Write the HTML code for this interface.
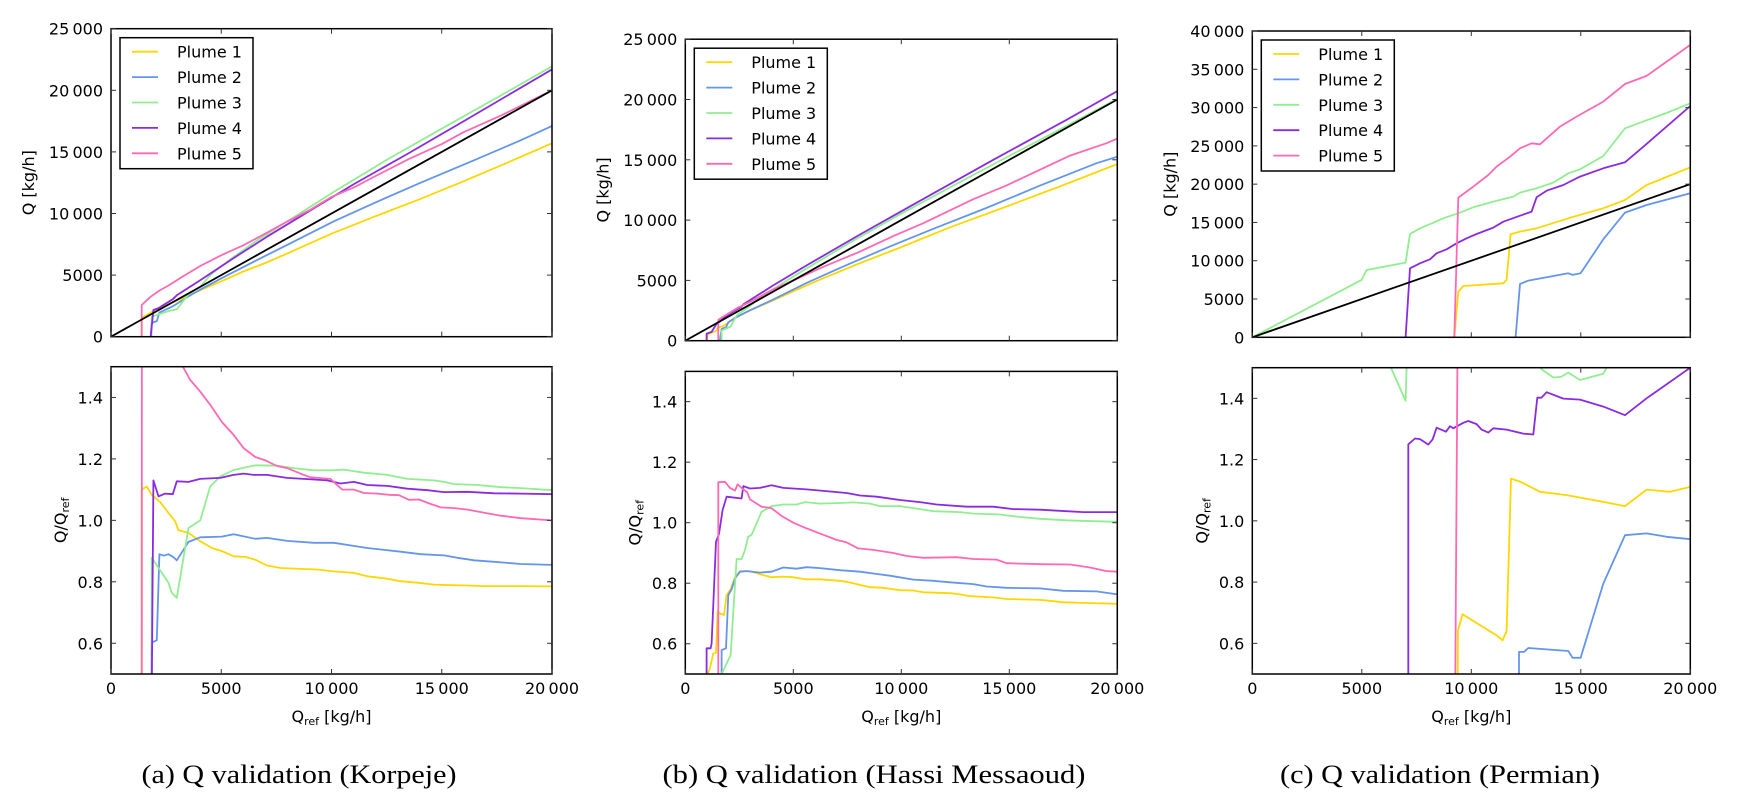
<!DOCTYPE html>
<html><head><meta charset="utf-8"><style>
html,body{margin:0;padding:0;background:#fff;}
svg{display:block;}
.tk{font-family:"DejaVu Sans","Liberation Sans",sans-serif;font-size:16px;fill:#000;}
.cap{font-family:"Liberation Serif",serif;font-size:26px;fill:#000;}
</style></head><body>
<svg id="fig" width="1738" height="806" viewBox="0 0 1738 806" xmlns="http://www.w3.org/2000/svg">
<rect width="1738" height="806" fill="#fff"/>
<text class="cap" x="299" y="783" text-anchor="middle" textLength="315" lengthAdjust="spacingAndGlyphs">(a) Q validation (Korpeje)</text>
<text class="cap" x="874" y="783" text-anchor="middle" textLength="423" lengthAdjust="spacingAndGlyphs">(b) Q validation (Hassi Messaoud)</text>
<text class="cap" x="1440" y="783" text-anchor="middle" textLength="320" lengthAdjust="spacingAndGlyphs">(c) Q validation (Permian)</text>
</svg>
<script>
// ---------- Data: Korpeje (a) ----------
const aT1x=[1394,1394,2000,3000,4000,5000,6000,7000,8000,10000,12000,14000,16000,18000,20000];
const aT1y=[0,1530,2150,2940,3730,4500,5290,5980,6760,8360,9780,11160,12620,14150,15700];
const aT2x=[1800,1848,2076,2197,2833,3515,4045,5030,6545,8000,10106,12000,14045,16470,18591,20000];
const aT2y=[0,1110,1270,1960,2500,3270,3820,4760,6150,7460,9370,10900,12500,14330,15950,17100];
const aT3x=[1840,1848,2606,2985,3515,4045,4500,4955,5561,6545,8288,10106,12530,15106,17682,20000];
const aT3y=[0,1620,2080,2230,3430,4050,5000,5660,6470,7720,9700,11750,14380,17000,19590,21950];
const aT4x=[1800,1924,2152,2803,2985,4045,5561,7076,9197,11015,13439,16167,20000];
const aT4y=[0,2170,2320,3040,3360,4590,6380,8120,10420,12390,14830,17670,21700];
const aT5x=[1394,1394,1800,2200,2600,3258,4045,5030,6015,7000,8000,9045,10000,11000,12000,13515,15000,16000,17682,20000];
const aT5y=[0,2570,3250,3750,4150,4890,5740,6640,7430,8370,9360,10310,11350,12100,13040,14430,15630,16610,17950,20000];
const aR1x=[1394,1394,1621,1848,2227,2606,2909,3061,3515,4045,4576,5030,5561,6091,6545,7076,7682,8591,9348,10106,11015,11621,12530,13136,13894,14652,15409,16167,16924,18591,20000];
const aR1y=[0,1.10,1.11,1.083,1.06,1.024,0.997,0.968,0.959,0.932,0.91,0.90,0.883,0.881,0.872,0.853,0.845,0.842,0.84,0.834,0.829,0.818,0.81,0.802,0.797,0.791,0.789,0.788,0.786,0.786,0.785];
const aR2x=[1800,1848,2076,2197,2400,2600,2833,2985,3515,4045,5030,5561,6545,7076,7985,9197,10106,10712,11621,13136,14045,15106,15712,16470,17379,18591,20000];
const aR2y=[0,0.602,0.61,0.89,0.885,0.89,0.88,0.87,0.93,0.945,0.947,0.955,0.94,0.943,0.933,0.927,0.927,0.92,0.91,0.898,0.89,0.886,0.878,0.87,0.865,0.858,0.855];
const aR3x=[1840,1848,2606,2758,2985,3515,4045,4500,4955,5561,6545,7530,8288,9197,10106,10561,11470,12530,13439,14652,15106,15561,16621,17682,18591,20000];
const aR3y=[0,0.878,0.797,0.764,0.748,0.975,1.0,1.11,1.143,1.164,1.179,1.178,1.17,1.163,1.163,1.165,1.155,1.148,1.135,1.13,1.125,1.118,1.115,1.108,1.105,1.098];
const aR4x=[1800,1924,2152,2455,2803,2985,3515,4045,4955,5561,6015,6470,7076,7985,9197,9803,10409,11015,11621,12530,13439,14348,15106,16167,17379,18591,20000];
const aR4y=[0,1.13,1.078,1.087,1.085,1.127,1.125,1.135,1.138,1.148,1.152,1.148,1.148,1.138,1.133,1.13,1.12,1.125,1.115,1.112,1.103,1.098,1.092,1.093,1.088,1.087,1.085];
const aR5x=[1394,1400,3258,3591,4045,4500,5030,5561,6015,6545,7000,7530,7985,8591,9045,9500,9955,10485,11015,11470,12076,12606,13060,13515,13970,14424,14955,15561,16167,16924,17682,18591,20000];
const aR5y=[0,1.84,1.5,1.457,1.419,1.376,1.32,1.278,1.235,1.206,1.195,1.177,1.17,1.152,1.14,1.137,1.135,1.10,1.10,1.089,1.087,1.083,1.082,1.067,1.068,1.055,1.042,1.04,1.035,1.025,1.015,1.007,1.0];
// ---------- Data: Hassi Messaoud (b) ----------
const bT1x=[1000,1034,1420,1497,1790,2299,2994,3997,5000,6235,7932,9938,12253,14877,17500,20000];
const bT1y=[0,520,810,1060,1240,1890,2510,3280,4100,5070,6320,7720,9400,11130,12900,14640];
const bT2x=[1600,1682,1883,1991,2299,2840,3997,5617,7160,9475,11481,13951,16420,19043,20000];
const bT2y=[0,975,1100,1515,1890,2390,3350,4790,6040,7820,9280,11010,12860,14720,15260];
const bT3x=[1682,1682,2099,2377,2917,3534,4537,5540,7778,9938,12716,15340,17654,20000];
const bT3y=[0,840,1180,2090,2780,3660,4810,5920,8300,10480,13160,15650,17800,20060];
const bT4x=[988,988,1219,1420,1728,1914,2608,2685,3997,5617,8086,10864,14259,17654,20000];
const bT4y=[0,580,730,1330,1800,2080,2820,3010,4500,6240,8810,11600,15000,18320,20700];
const bT5x=[1528,1528,1836,2423,2994,3997,5000,6389,8009,9630,11019,13333,14877,17809,19506,20000];
const bT5y=[0,1730,2080,2730,3220,4190,5000,6130,7330,8670,9740,11730,12880,15350,16380,16760];
const bR1x=[1034,1142,1296,1420,1497,1605,1790,1914,2099,2299,2531,2994,3534,3997,4537,5000,5540,6235,7160,7469,7932,8549,9167,9938,10556,11019,12253,12716,13179,14259,14877,16420,16883,17500,18426,20000];
const bR1y=[0.5,0.52,0.568,0.57,0.706,0.70,0.695,0.76,0.78,0.82,0.84,0.84,0.828,0.82,0.822,0.82,0.813,0.813,0.808,0.805,0.797,0.787,0.785,0.777,0.776,0.77,0.767,0.763,0.757,0.753,0.748,0.745,0.742,0.737,0.735,0.732];
const bR2x=[1682,1682,1883,1991,2145,2299,2531,2840,3457,3997,4537,5154,5617,6235,7160,8086,8704,9475,10556,11481,12253,13333,13951,14877,16420,17500,19043,20000];
const bR2y=[0,0.579,0.585,0.761,0.78,0.816,0.838,0.84,0.835,0.838,0.852,0.848,0.853,0.85,0.843,0.838,0.832,0.825,0.812,0.808,0.803,0.797,0.789,0.785,0.783,0.775,0.773,0.763];
const bR3x=[1682,2099,2377,2608,2762,2917,3071,3534,3997,4537,5154,5540,6235,7160,7778,8549,9012,9938,10864,11481,12716,13333,14568,15340,16420,17654,18889,20000];
const bR3y=[0.5,0.562,0.88,0.88,0.91,0.954,0.96,1.036,1.055,1.06,1.06,1.068,1.063,1.065,1.067,1.063,1.055,1.055,1.045,1.038,1.035,1.03,1.027,1.02,1.013,1.008,1.005,1.003];
const bR4x=[988,988,1173,1219,1420,1559,1728,1914,2608,2685,2994,3457,3997,4537,5617,6389,7469,8086,8858,9938,10864,11636,13025,14259,15185,16420,17654,18426,20000];
const bR4y=[0,0.585,0.585,0.6,0.937,0.963,1.042,1.086,1.08,1.121,1.113,1.115,1.124,1.115,1.11,1.105,1.098,1.09,1.086,1.075,1.068,1.06,1.053,1.053,1.045,1.043,1.038,1.035,1.035];
const bR5x=[1528,1528,1836,2068,2299,2423,2685,2870,2994,3534,3997,4460,5000,5617,6389,7006,7469,8009,8704,9630,10247,11019,12562,13333,14414,14877,16420,17809,18735,19506,20000];
const bR5y=[0,1.134,1.135,1.115,1.106,1.127,1.11,1.10,1.077,1.053,1.048,1.022,1.0,0.981,0.96,0.943,0.935,0.915,0.91,0.9,0.89,0.884,0.886,0.88,0.878,0.866,0.863,0.862,0.852,0.84,0.838];
// ---------- Data: Permian (c) ----------
const cT1x=[9224,9406,9635,11461,11613,11796,12222,12983,14429,16027,17017,18005,20000];
const cT1y=[0,5960,6700,7050,7490,13450,13800,14230,15540,16850,17930,19890,22200];
const cT2x=[12024,12222,12603,14429,14627,14992,16027,17017,18005,20000];
const cT2y=[0,6960,7400,8360,8150,8360,12800,16280,17280,18800];
const cT3x=[0,4992,5221,7002,7199,7656,8265,8721,9482,10091,11005,11918,12222,12983,13744,14429,14962,16027,17017,19072,20000];
const cT3y=[0,7490,8790,9750,13490,14230,14970,15540,16280,16980,17720,18370,18890,19460,20200,21420,21940,23680,27290,29470,30560];
const cT4x=[7002,7199,7656,8113,8417,8874,9330,9787,10243,11005,11461,12755,12983,13439,14201,14962,16027,17017,18005,20000];
const cT4y=[0,9010,9660,10190,10970,11490,12280,12930,13490,14320,15100,16410,18280,19150,19890,20980,22070,22850,25250,30210];
const cT5x=[9224,9406,10091,10776,11157,11766,12222,12755,13135,14049,14810,16027,17017,18005,20000];
const cT5y=[0,18240,19680,21200,22290,23590,24680,25330,25200,27510,28820,30780,33080,34130,38180];
const cR1x=[9360,9390,9604,11157,11431,11613,11811,12222,13135,14353,16027,17017,18005,19072,20000];
const cR1y=[0,0.643,0.695,0.626,0.61,0.64,1.138,1.128,1.095,1.084,1.062,1.048,1.102,1.095,1.111];
const cR2x=[12176,12176,12405,12603,14429,14627,14992,16027,17017,18005,18919,20000];
const cR2y=[0,0.572,0.572,0.585,0.575,0.553,0.553,0.795,0.953,0.959,0.948,0.94];
const cR3x=[1000,4992,5221,7002,7199,10091,13135,13300,13750,14100,14429,14962,16027,16180,17017,20000];
const cR3y=[1.53,1.52,1.68,1.392,1.87,1.68,1.5,1.49,1.468,1.47,1.484,1.46,1.48,1.5,1.6,1.53];
const cR4x=[7123,7123,7427,7656,8037,8235,8417,8843,9026,9178,9635,9863,10243,10472,10776,11005,11613,12374,12831,13014,13200,13440,14201,14962,16027,17017,18005,20000];
const cR4y=[0,1.25,1.269,1.267,1.249,1.266,1.304,1.291,1.309,1.302,1.32,1.326,1.316,1.298,1.288,1.302,1.298,1.285,1.282,1.402,1.402,1.42,1.399,1.396,1.373,1.345,1.4,1.5];
const cR5x=[9224,9406,20000];
const cR5y=[0,1.94,1.91];
// ---------- Axis ticks ----------
const xTicks=[0,5000,10000,15000,20000];
const abTopTicks=[0,5000,10000,15000,20000,25000];
const cTopTicks=[0,5000,10000,15000,20000,25000,30000,35000,40000];
const ratioTicks=[0.6,0.8,1.0,1.2,1.4];
const seriesNames=["Plume 1","Plume 2","Plume 3","Plume 4","Plume 5"];
const seriesColors=["#ffd700","#6495ed","#90ee90","#8a2be2","#ff69b4"];

const NS="http://www.w3.org/2000/svg";
const svg=document.getElementById('fig');
function mk(tag,attrs,parent){const e=document.createElementNS(NS,tag);for(const k in attrs)e.setAttribute(k,attrs[k]);(parent||svg).appendChild(e);return e;}
function fmt(v){if(v>=10000){const s=String(v);return s.slice(0,s.length-3)+"\u2009"+s.slice(-3);}return String(v);}
function fmtR(v){return v.toFixed(1);}

const panels=[
 {id:'a',x0:111,x1:552,tTop:28.7,tBot:336.7,tMax:25000,yt:abTopTicks,rTop:366.7,rBot:674,
  top:[[aT1x,aT1y],[aT2x,aT2y],[aT3x,aT3y],[aT4x,aT4y],[aT5x,aT5y]],
  rat:[[aR1x,aR1y],[aR2x,aR2y],[aR3x,aR3y],[aR4x,aR4y],[aR5x,aR5y]]},
 {id:'b',x0:685.3,x1:1117.3,tTop:39.2,tBot:340.7,tMax:25000,yt:abTopTicks,rTop:371.4,rBot:674,
  top:[[bT1x,bT1y],[bT2x,bT2y],[bT3x,bT3y],[bT4x,bT4y],[bT5x,bT5y]],
  rat:[[bR1x,bR1y],[bR2x,bR2y],[bR3x,bR3y],[bR4x,bR4y],[bR5x,bR5y]]},
 {id:'c',x0:1252.3,x1:1690.3,tTop:31,tBot:337.3,tMax:40000,yt:cTopTicks,rTop:367.7,rBot:674,
  top:[[cT1x,cT1y],[cT2x,cT2y],[cT3x,cT3y],[cT4x,cT4y],[cT5x,cT5y]],
  rat:[[cR1x,cR1y],[cR2x,cR2y],[cR3x,cR3y],[cR4x,cR4y],[cR5x,cR5y]]}
];
const defs=mk('defs',{});

panels.forEach(p=>{
 const X=v=>p.x0+v/20000*(p.x1-p.x0);
 const YT=v=>p.tBot-v/p.tMax*(p.tBot-p.tTop);
 const YR=v=>p.rBot-(v-0.5)*(p.rBot-p.rTop);
 const W=p.x1-p.x0;
 const c1=mk('clipPath',{id:'clipT'+p.id},defs);mk('rect',{x:p.x0,y:p.tTop,width:W,height:p.tBot-p.tTop},c1);
 const c2=mk('clipPath',{id:'clipR'+p.id},defs);mk('rect',{x:p.x0,y:p.rTop,width:W,height:p.rBot-p.rTop},c2);

 const gT=mk('g',{'clip-path':'url(#clipT'+p.id+')'});
 
 
 p.top.forEach((s,i)=>{
  const pts=s[0].map((x,k)=>X(x).toFixed(1)+','+YT(s[1][k]).toFixed(1)).join(' ');
  const l=mk('polyline',{points:pts,fill:'none',stroke:seriesColors[i],'stroke-width':1.8,'stroke-linejoin':'round'},gT);
  
  
 });
 const ref=mk('line',{x1:X(0),y1:YT(0),x2:X(20000),y2:YT(20000),stroke:'#000','stroke-width':1.8},gT);
 
 

 const gR=mk('g',{'clip-path':'url(#clipR'+p.id+')'});
 
 
 p.rat.forEach((s,i)=>{
  const pts=s[0].map((x,k)=>X(x).toFixed(1)+','+YR(s[1][k]).toFixed(1)).join(' ');
  const l=mk('polyline',{points:pts,fill:'none',stroke:seriesColors[i],'stroke-width':1.8,'stroke-linejoin':'round'},gR);
  
  
 });

 [[p.tTop,p.tBot,'q-axes-frame-'],[p.rTop,p.rBot,'ratio-axes-frame-']].forEach(f=>{
  const r=mk('rect',{x:p.x0,y:f[0],width:W,height:f[1]-f[0],fill:'none',stroke:'#000','stroke-width':1.5});
  
  
  xTicks.forEach(t=>{
   mk('line',{x1:X(t),x2:X(t),y1:f[0],y2:f[0]+5,stroke:'#333','stroke-width':1});
   mk('line',{x1:X(t),x2:X(t),y1:f[1],y2:f[1]-5,stroke:'#333','stroke-width':1});
  });
 });
 p.yt.forEach(t=>{
  mk('line',{x1:p.x0,x2:p.x0+5,y1:YT(t),y2:YT(t),stroke:'#333','stroke-width':1});
  mk('line',{x1:p.x1,x2:p.x1-5,y1:YT(t),y2:YT(t),stroke:'#333','stroke-width':1});
  const tx=mk('text',{x:p.x0-8,y:YT(t)+6,'text-anchor':'end',class:'tk'});
  
  
  tx.textContent=fmt(t);
 });
 ratioTicks.forEach(t=>{
  mk('line',{x1:p.x0,x2:p.x0+5,y1:YR(t),y2:YR(t),stroke:'#333','stroke-width':1});
  mk('line',{x1:p.x1,x2:p.x1-5,y1:YR(t),y2:YR(t),stroke:'#333','stroke-width':1});
  const tx=mk('text',{x:p.x0-8,y:YR(t)+6,'text-anchor':'end',class:'tk'});
  
  
  tx.textContent=fmtR(t);
 });
 xTicks.forEach(t=>{
  const tx=mk('text',{x:X(t),y:694,'text-anchor':'middle',class:'tk'});
  
  
  tx.textContent=fmt(t);
 });
 const xl=mk('text',{x:(p.x0+p.x1)/2,y:722,'text-anchor':'middle',class:'tk'});
 
 
 xl.innerHTML='Q<tspan font-size="11" dy="3">ref</tspan><tspan dy="-3"> [kg/h]</tspan>';
 const ycT=(p.tTop+p.tBot)/2, xT=p.x0-77;
 const yl=mk('text',{x:xT,y:ycT,'text-anchor':'middle',class:'tk',transform:'rotate(-90 '+xT+' '+ycT+')'});
 
 
 yl.textContent='Q [kg/h]';
 const ycR=(p.rTop+p.rBot)/2, xR=p.x0-45;
 const yr=mk('text',{x:xR,y:ycR,'text-anchor':'middle',class:'tk',transform:'rotate(-90 '+xR+' '+ycR+')'});
 
 
 yr.innerHTML='Q/Q<tspan font-size="11" dy="3">ref</tspan>';

 const lx=p.x0+9, ly=p.tTop+9;
 const lg=mk('g',{});
 
 
 mk('rect',{x:lx,y:ly,width:133,height:131,fill:'#fff',stroke:'#000','stroke-width':1.5},lg);
 seriesNames.forEach((n,i)=>{
  const yy=ly+14+i*25.4;
  const e=mk('g',{},lg);
  
  
  mk('line',{x1:lx+12,x2:lx+38,y1:yy,y2:yy,stroke:seriesColors[i],'stroke-width':1.8},e);
  const t=mk('text',{x:lx+57,y:yy+6,class:'tk','font-size':'18'},e);
  t.textContent=n;
 });
});
</script>
</body></html>
